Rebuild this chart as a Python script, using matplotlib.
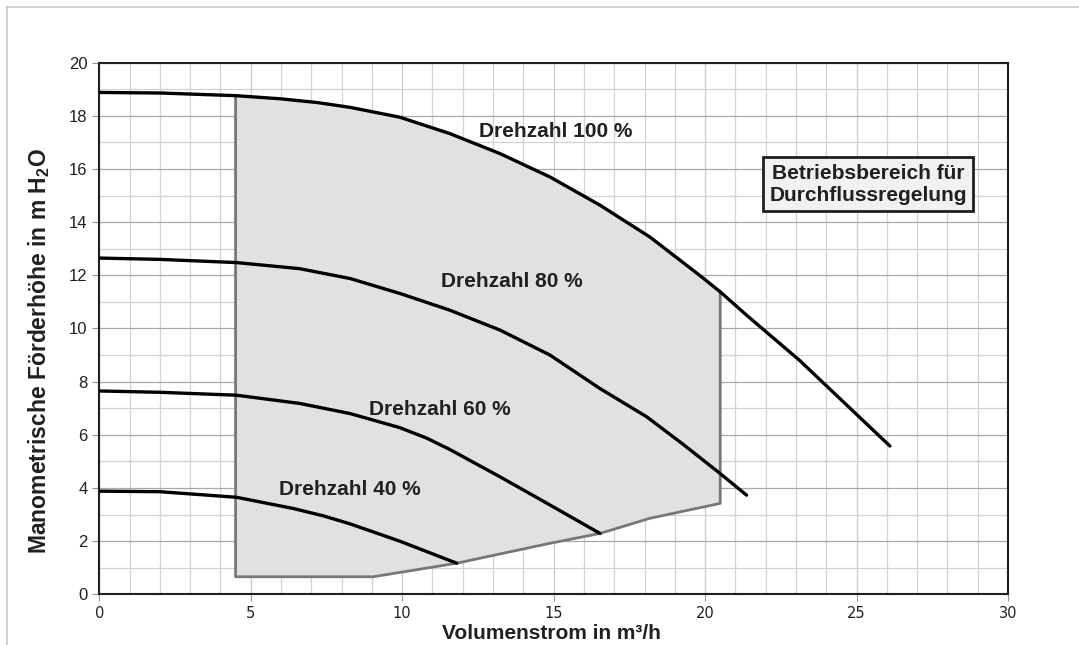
import matplotlib
matplotlib.use("Agg")
import matplotlib.pyplot as plt
import numpy as np
from matplotlib.lines import Line2D

plt.rcParams['font.family'] = ['Liberation Sans', 'DejaVu Sans']
plt.rcParams['mathtext.fontset'] = 'custom'
plt.rcParams['mathtext.bf'] = 'Liberation Sans:bold'
plt.rcParams['mathtext.rm'] = 'Liberation Sans'

# pump curves (Volumenstrom m3/h, Förderhöhe m)
q100 = [0, 2, 4.5, 6.0, 7.2, 8.28, 9.92, 11.58, 13.23, 14.88, 16.53, 18.18, 19.82, 20.5, 21.37, 23.12, 26.1]
h100 = [18.88, 18.86, 18.76, 18.64, 18.5, 18.32, 17.95, 17.33, 16.58, 15.70, 14.64, 13.44, 12.0, 11.38, 10.5, 8.8, 5.58]

q80 = [0, 2, 4.53, 6.62, 8.28, 9.92, 11.57, 13.23, 14.88, 16.53, 18.07, 19.3, 20.49, 21.37]
h80 = [12.65, 12.6, 12.48, 12.25, 11.88, 11.32, 10.69, 9.94, 9.0, 7.74, 6.68, 5.62, 4.55, 3.73]

q60 = [0, 2, 4.53, 6.62, 8.28, 9.92, 10.8, 11.57, 13.23, 14.88, 16.53]
h60 = [7.65, 7.6, 7.49, 7.18, 6.80, 6.27, 5.88, 5.45, 4.42, 3.36, 2.29]

q40 = [0, 2, 4.53, 6.40, 7.4, 8.28, 9.92, 11.8]
h40 = [3.88, 3.86, 3.65, 3.23, 2.95, 2.65, 2.0, 1.17]

# operating range (lower boundary)
reg_q = [4.5, 9.04, 11.8, 14.88, 16.53, 18.18, 20.5]
reg_h = [0.66, 0.66, 1.17, 1.92, 2.29, 2.86, 3.42]

labels = ['Drehzahl 100 %', 'Drehzahl 80 %', 'Drehzahl 60 %', 'Drehzahl 40 %']
label_q = [15.06, 13.61, 11.24, 8.26]
label_h = [17.42, 11.75, 6.95, 3.96]

fig = plt.figure(figsize=(10.79, 6.45), dpi=100)
ax = fig.add_axes([0.092, 0.0786, 0.8422, 0.8242])

# shaded region: bottom boundary, then back along 100 % curve
top = [(q, h) for q, h in zip(q100, h100) if reg_q[0] <= q <= reg_q[-1]]
poly_q = list(reg_q) + [p[0] for p in reversed(top)]
poly_h = list(reg_h) + [p[1] for p in reversed(top)]
ax.fill(poly_q, poly_h, color='#e0e1e3', zorder=1, lw=0)
edge_q = [top[0][0]] + list(reg_q) + [top[-1][0]]
edge_h = [top[0][1]] + list(reg_h) + [top[-1][1]]
ax.plot(edge_q, edge_h, color='#777777', lw=2, zorder=3)

for q, h in [(q100, h100), (q80, h80), (q60, h60), (q40, h40)]:
    ax.plot(q, h, color='black', lw=2.4, zorder=4, solid_capstyle='round',
            solid_joinstyle='round')

for t, x, y in zip(labels, label_q, label_h):
    ax.text(x, y, t, ha='center', va='center', fontsize=15, fontweight='bold',
            color='#231f20', zorder=5)

ax.text(25.39, 15.43, 'Betriebsbereich für\nDurchflussregelung', ha='center', va='center',
        fontsize=15, fontweight='bold', color='#231f20', linespacing=1.2, zorder=5,
        bbox=dict(boxstyle='square,pad=0.3', facecolor='#f0f1f1', edgecolor='#231f20', lw=2))

ax.set_xlim(0, 30)
ax.set_ylim(0, 20)
ax.set_xticks(np.arange(0, 31, 5))
ax.set_yticks(np.arange(0, 21, 2))
ax.set_xticks(np.arange(0, 31, 1), minor=True)
ax.set_yticks(np.arange(0, 21, 1), minor=True)
ax.grid(True, which='minor', axis='both', color='#d2d2d2', lw=0.9, zorder=0)
ax.grid(True, which='major', axis='x', color='#c8c8c8', lw=0.9, zorder=0)
ax.grid(True, which='major', axis='y', color='#a8a8a8', lw=0.9, zorder=0)
ax.set_axisbelow(True)
ax.tick_params(which='minor', length=0)
ax.tick_params(which='major', length=5, color='#999999', width=0.8, labelsize=12,
               labelcolor='#231f20')
for lab in ax.get_xticklabels():
    lab.set_fontfamily('DejaVu Sans')
    lab.set_fontsize(10.5)
for s in ax.spines.values():
    s.set_linewidth(1.5)
    s.set_color('#231f20')

ax.set_xlabel('Volumenstrom in m³/h', fontsize=15, fontweight='bold', color='#231f20')
ax.xaxis.set_label_coords(0.4977, -0.055)
ax.set_ylabel(r'Manometrische Förderhöhe in m H$_{\mathbf{2}}$O', fontsize=16.5,
              fontweight='bold', color='#231f20')
ax.yaxis.set_label_coords(-0.0515, 0.4577)

# thin frame around figure (top and left)
fig.add_artist(Line2D([7 / 1079, 1], [1 - 7 / 645, 1 - 7 / 645], color='#c8c8c8', lw=1.2,
                      transform=fig.transFigure))
fig.add_artist(Line2D([7 / 1079, 7 / 1079], [0, 1 - 7 / 645], color='#c8c8c8', lw=1.2,
                      transform=fig.transFigure))

fig.savefig('out.png', dpi=100)
